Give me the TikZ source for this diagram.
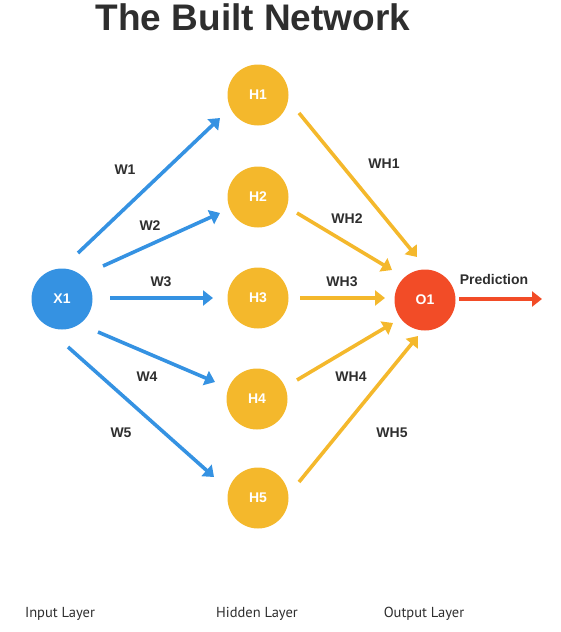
\documentclass[tikz,border=0pt]{standalone}
\usepackage{fontspec}
\setmainfont{Liberation Sans}
\newfontfamily\condfont{PT Sans}
\usetikzlibrary{arrows.meta,calc}
\definecolor{nblue}{HTML}{3592E2}
\definecolor{nyellow}{HTML}{F4B82C}
\definecolor{nred}{HTML}{F24C27}
\definecolor{ntext}{HTML}{2E2E2E}
\begin{document}
\begin{tikzpicture}[x=1pt,y=-1pt,
  neuron/.style={circle,minimum size=61pt,inner sep=0pt,text=white,font=\bfseries\fontsize{14}{16}\selectfont},
  inneuron/.style={neuron,fill=nblue},
  hidneuron/.style={neuron,fill=nyellow},
  outneuron/.style={neuron,fill=nred},
  conn/.style={line width=3.6pt,-{Triangle[length=10pt,width=15pt]}},
  bconn/.style={conn,draw=nblue},
  yconn/.style={conn,draw=nyellow},
  rconn/.style={conn,draw=nred},
  wlabel/.style={text=ntext,font=\bfseries\fontsize{14}{16}\selectfont,inner sep=0pt},
  layerlabel/.style={text=ntext,font=\condfont\fontsize{14.5}{16}\selectfont,inner sep=0pt}]
\useasboundingbox (0,0) rectangle (561,632);
\node[text=ntext,font=\bfseries\fontsize{37}{40}\selectfont,inner sep=0pt] (title) at (253,17) {The Built Network};
\node[inneuron] (X1) at (62,299) {X1};
\node[hidneuron] (H1) at (258,95) {H1};
\node[hidneuron] (H2) at (258,197) {H2};
\node[hidneuron] (H3) at (258,298) {H3};
\node[hidneuron] (H4) at (257,399) {H4};
\node[hidneuron] (H5) at (258,498) {H5};
\node[outneuron] (O1) at (425,300) {O1};
\coordinate (pred) at ([shift={(117,-1)}]O1.center);
% input to hidden
\draw[bconn] ([shift={(16,-46)}]X1.center) -- ([shift={(-38,23)}]H1.center);
\draw[bconn] ([shift={(41,-33)}]X1.center) -- ([shift={(-38,16)}]H2.center);
\draw[bconn] ([shift={(48,-1)}]X1.center) -- ([shift={(-45,0)}]H3.center);
\draw[bconn] ([shift={(36,33)}]X1.center) -- ([shift={(-42,-17)}]H4.center);
\draw[bconn] ([shift={(6,48)}]X1.center) -- ([shift={(-44,-21)}]H5.center);
% hidden to output
\draw[yconn] ([shift={(41,18)}]H1.center) -- ([shift={(-8,-43)}]O1.center);
\draw[yconn] ([shift={(39,16)}]H2.center) -- ([shift={(-33,-30)}]O1.center);
\draw[yconn] ([shift={(42,0)}]H3.center) -- ([shift={(-40,-2)}]O1.center);
\draw[yconn] ([shift={(40,-19)}]H4.center) -- ([shift={(-32,23)}]O1.center);
\draw[yconn] ([shift={(41,-16)}]H5.center) -- ([shift={(-7,36)}]O1.center);
\draw[rconn] ([shift={(34,-1)}]O1.center) -- (pred);
% weight labels
\node[wlabel] (w1) at (125,170) {W1};
\node[wlabel] (w2) at (150,226) {W2};
\node[wlabel] (w3) at (161,282) {W3};
\node[wlabel] (w4) at (147,377) {W4};
\node[wlabel] (w5) at (121,433) {W5};
\node[wlabel] (wh1) at (384,164) {WH1};
\node[wlabel] (wh2) at (347,219) {WH2};
\node[wlabel] (wh3) at (342,282) {WH3};
\node[wlabel] (wh4) at (351,377) {WH4};
\node[wlabel] (wh5) at (392,433) {WH5};
\node[wlabel] (predlabel) at (494,279) {Prediction};
% layer labels
\node[layerlabel] (inl) at (60,614) {Input Layer};
\node[layerlabel] (hidl) at (257,614) {Hidden Layer};
\node[layerlabel] (outl) at (424,614) {Output Layer};
\end{tikzpicture}
\end{document}
